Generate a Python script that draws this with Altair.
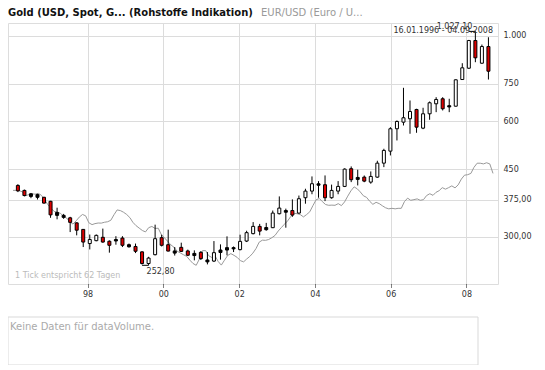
import math
import altair as alt
import pandas as pd

# ---------------- texts ----------------
TITLE_MAIN = "Gold (USD, Spot, G... (Rohstoffe Indikation)"
TITLE_COMPARE = "EUR/USD (Euro / U..."
PERIOD_TEXT = "16.01.1996 - 04.09.2008"
TICK_NOTE = "1 Tick entspricht 62 Tagen"
VOLUME_NOTE = "Keine Daten für dataVolume."

# ---------------- candles (USD per ounce) ----------------
candle_first = "1996-02-29"
candle_step_days = 63
opens = [408, 396, 382, 386, 380, 371, 341, 337, 336, 326, 313.5, 288, 293, 299, 292, 292.5, 297.6, 286, 283, 274,
         255.5, 269.4, 298.3, 286, 275.5, 281.5, 275.5, 268, 273.2, 258, 259.3, 273, 277, 279, 277.7, 292.3, 305.6,
         319.2, 313, 316.7, 344.4, 347.5, 351, 345.7, 379, 394.4, 408.5, 409.7, 379, 394.4, 405.6, 451, 423, 428.8,
         416.2, 428.8, 466.3, 501.1, 573, 596.1, 608.4, 643.2, 575.1, 626.8, 665.5, 685.8, 653, 656, 769.7, 823.7,
         972.3, 848.7, 937.9]
highs = [411, 398, 390, 388, 381, 372, 357, 344, 338, 327, 314, 304, 304, 315, 293.6, 301, 301, 288, 288, 275,
         266, 322.5, 303.7, 313, 282, 289.5, 277.7, 276.5, 275.3, 273.7, 292.3, 286.6, 300.7, 283, 303.7, 311, 327.5,
         324, 326, 351, 382, 355, 375.3, 384, 400, 430.6, 418.7, 433.2, 410, 418.7, 452, 457.2, 448.3, 433,
         443.7, 473, 508.3, 578.5, 602.2, 732.4, 678.8, 645.9, 649.8, 674.8, 692.3, 692.3, 685.8, 770, 848.7, 976,
         1027.1, 949.2, 991.6]
lows = [392, 382, 378, 375, 366, 336, 333, 334, 308.5, 302.5, 282, 278, 292, 289.5, 272.7, 286, 282, 281, 272, 254,
        252.8, 268.3, 283, 274.8, 268, 273.7, 267.2, 260.4, 261, 254.2, 257.8, 261.5, 268.3, 273.7, 276.5, 290.6, 304.3,
        302.5, 311, 316, 343, 316.7, 338, 344.4, 365.7, 387, 379, 371.4, 376.8, 387, 404, 416.2, 408, 416,
        412.2, 427, 455.3, 488.3, 534.2, 584.4, 556.1, 559.4, 571.6, 604.7, 632.9, 639.4, 632.9, 655, 769.7, 820,
        853.8, 845.6, 769.7]
closes = [395, 384, 388, 380, 367, 342, 347, 341, 327, 312, 290.6, 295, 302.5, 290.6, 285, 295, 285, 282.5, 275, 255.5,
          264, 296.5, 285, 275.3, 272, 274.8, 268.5, 271.5, 263.1, 261, 272.7, 277, 281, 281, 291.8, 307.4, 319.2,
          310.3, 317, 345.7, 356.2, 351, 341.6, 376.8, 394.4, 412.2, 412, 379, 396, 405.6, 449.9, 422.2, 428, 418.7,
          430.6, 466.3, 503.2, 573, 598.6, 612, 635.5, 578.5, 626.8, 669.5, 682.9, 645.9, 658, 768.4, 825.6, 972.3,
          876.6, 937.9, 809]

# ---------------- EUR/USD comparison line, indexed to the gold scale ----------------
eur_first_month = "1996-01-01"
eur_day_in_month = 12
eur_indexed = [
    396.1, 396.1, 395.4, 392.6, 383.4, 386.3, 388.0, 387.2, 389.1, 384.5, 374.3, 363.9,
    355.9, 349.0, 347.7, 345.3, 339.7, 335.5, 328.2, 323.7, 330.1, 337.5, 342.8, 340.1,
    326.2, 322.6, 324.5, 325.7, 325.5, 327.2, 328.2, 331.1, 342.4, 352.3, 350.9, 347.5,
    342.8, 336.3, 327.2, 320.6, 316.0, 311.4, 308.8, 316.8, 319.1, 315.3, 315.7, 303.9,
    297.8, 291.6, 285.9, 281.6, 275.1, 272.2, 269.4, 266.7, 260.7, 255.6, 252.8, 262.3,
    276.0, 276.0, 267.8, 264.9, 267.8, 258.6, 253.1, 260.7, 268.3, 271.1, 268.3, 265.1,
    259.9, 258.1, 262.3, 266.5, 271.9, 279.6, 290.4, 293.9, 293.6, 295.1, 298.3, 302.4,
    310.5, 317.2, 323.3, 329.8, 338.5, 345.3, 344.4, 342.6, 337.9, 342.6, 348.4, 361.5,
    374.5, 377.2, 370.3, 363.9, 362.2, 362.6, 362.2, 365.8, 361.5, 369.6, 382.7, 394.9,
    404.5, 399.7, 392.6, 383.4, 379.9, 370.9, 364.3, 368.7, 365.8, 361.1, 356.8, 354.6,
    355.7, 354.6, 355.7, 355.7, 370.2, 378.1, 373.2, 374.7, 376.4, 373.2, 374.7, 384.0,
    388.2, 384.5, 391.4, 395.4, 402.6, 399.0, 402.6, 406.9, 402.1, 409.3, 423.8, 433.8,
    435.1, 438.5, 454.5, 466.1, 466.1, 464.2, 467.4, 464.2, 438.5,
]

# ---------------- axes ----------------
x_tick_years = [1998, 2000, 2002, 2004, 2006, 2008]
y_ticks = [300, 375, 450, 600, 750, 1000]
y_tick_labels = ["300,00", "375,00", "450", "600", "750", "1.000"]

# ---------------- tables ----------------
candle_dates = pd.date_range(candle_first, periods=len(opens), freq=f"{candle_step_days}D")


def kind_of(o, c):
    if abs(math.log(c / o)) < 0.02:
        return "flat"
    return "up" if c > o else "down"


candles = pd.DataFrame({
    "date": candle_dates,
    "open": opens, "high": highs, "low": lows, "close": closes,
    "kind": [kind_of(o, c) for o, c in zip(opens, closes)],
})

eur = pd.DataFrame({
    "date": pd.date_range(eur_first_month, periods=len(eur_indexed), freq="MS") + pd.Timedelta(days=eur_day_in_month),
    "value": eur_indexed,
})


def de_num(v):
    s = f"{v:,.2f}"
    return s.replace(",", "X").replace(".", ",").replace("X", ".")


i_max = max(range(len(highs)), key=lambda i: highs[i])
i_min = min(range(len(lows)), key=lambda i: lows[i])
extremes_text = pd.DataFrame({
    "date": [candle_dates[i_max], candle_dates[i_min]],
    "value": [highs[i_max], lows[i_min]],
    "label": [de_num(highs[i_max]), de_num(lows[i_min])],
    "which": ["max", "min"],
})
max_rule = pd.DataFrame({"d1": [candle_dates[i_max - 1]], "d2": [candle_dates[i_max]], "value": [highs[i_max]]})
min_rule = pd.DataFrame({"d1": [candle_dates[i_min - 1]], "d2": [candle_dates[i_min]], "value": [lows[i_min]]})

# ---------------- encodings ----------------
FONT = "DejaVu Sans"
x_scale = alt.Scale(domain=[alt.DateTime(year=1996, month=1, date=13), alt.DateTime(year=2008, month=9, date=13)])
y_scale = alt.Scale(type="log", domain=[226, 1080], nice=False)

label_expr = "".join(f"datum.value == {v} ? '{l}' : " for v, l in zip(y_ticks, y_tick_labels)) + "''"

x_axis = alt.Axis(values=[alt.DateTime(year=y, month=1, date=1) for y in x_tick_years], format="%y",
                  title=None, grid=True, gridColor="#dcdcdc", domain=False,
                  ticks=True, tickColor="#000000", tickDash=[1, 1], tickSize=4,
                  labelPadding=2, labelFont=FONT, labelFontSize=8, labelColor="#333333")
y_axis = alt.Axis(orient="right", values=y_ticks, labelExpr=label_expr, title=None, grid=True,
                  gridColor="#dcdcdc", domain=False, ticks=False, labelPadding=5,
                  labelFont=FONT, labelFontSize=8, labelColor="#333333")


def X(field):
    return alt.X(field, type="temporal", scale=x_scale, axis=x_axis)


def Y(field):
    return alt.Y(field, type="quantitative", scale=y_scale, axis=y_axis)


line = alt.Chart(eur).mark_line(color="#999999", strokeWidth=1).encode(x=X("date"), y=Y("value"))

wicks = alt.Chart(candles).mark_rule(color="#000000", strokeWidth=1).encode(
    x=X("date"), y=Y("low"), y2="high")

bodies = alt.Chart(candles).mark_bar(size=3, stroke="#000000", strokeWidth=1).encode(
    x=X("date"), y=Y("open"), y2="close",
    fill=alt.Fill("kind:N", scale=alt.Scale(domain=["up", "down", "flat"],
                                            range=["#ffffff", "#dd0000", "#000000"]), legend=None))

max_mark = alt.Chart(max_rule).mark_rule(color="#000000", strokeWidth=1).encode(
    x=X("d1"), x2="d2", y=Y("value"))
min_mark = alt.Chart(min_rule).mark_rule(color="#000000", strokeWidth=1).encode(
    x=X("d1"), x2="d2", y=Y("value"))

max_label = alt.Chart(extremes_text).transform_filter("datum.which == 'max'").mark_text(
    font=FONT, fontSize=8, color="#333333", align="right", baseline="alphabetic", dx=-3, dy=-2.5
).encode(x=X("date"), y=Y("value"), text="label:N")
min_label = alt.Chart(extremes_text).transform_filter("datum.which == 'min'").mark_text(
    font=FONT, fontSize=8, color="#333333", align="left", baseline="alphabetic", dx=-2, dy=9
).encode(x=X("date"), y=Y("value"), text="label:N")


def note(text, x, y, size, color, weight="normal", align="left"):
    return alt.Chart(pd.DataFrame({"t": [text]})).mark_text(
        font=FONT, fontSize=size, color=color, fontWeight=weight, align=align, baseline="alphabetic"
    ).encode(x=alt.value(x), y=alt.value(y), text="t:N")


title_main = note(TITLE_MAIN, 0, -7.4, 10, "#111111", weight="bold")
title_cmp = note(TITLE_COMPARE, 253, -7.4, 10, "#9a9a9a")
period = note(PERIOD_TEXT, 485, 10, 8, "#333333", align="right")
tick_note = note(TICK_NOTE, 7, 255, 8, "#bbbbbb")

volume_box = alt.Chart(pd.DataFrame({"a": [0]})).mark_rect(
    fill="#ffffff", stroke="#d9d9d9", strokeWidth=1
).encode(x=alt.value(0), x2=alt.value(470), y=alt.value(294), y2=alt.value(342))
volume_note = note(VOLUME_NOTE, 2, 306.6, 10, "#aaaaaa")

chart = alt.layer(
    line, wicks, bodies, max_mark, min_mark, max_label, min_label,
    period, tick_note, title_main, title_cmp, volume_box, volume_note
).properties(
    width=490, height=261,
    padding={"left": 0, "top": 15, "right": 39, "bottom": 81},
    autosize=alt.AutoSizeParams(type="none"),
).configure_view(stroke="#d9d9d9", strokeWidth=1).configure(font=FONT)

chart.save("out.html", embed_options={"renderer": "svg", "actions": False})
